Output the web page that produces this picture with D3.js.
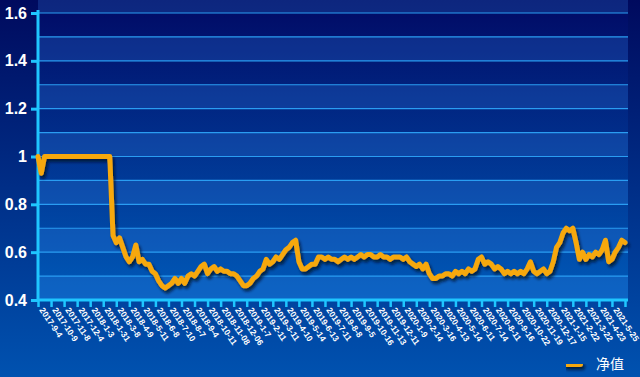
<!DOCTYPE html>
<html>
<head>
<meta charset="utf-8">
<script src="https://cdn.jsdelivr.net/npm/d3@7"></script>
<style>
  html, body { margin: 0; padding: 0; background: #00246e; }
  svg { display: block; font-family: "Liberation Sans", Arial, sans-serif; }
</style>
</head>
<body>
<svg id="chart"></svg>
<script>
// x-axis tick labels (one per tick, 4 samples between ticks)
const dateLabels = [
  "2017-9-4", "2017-10-9", "2017-11-8", "2017-12-4", "2018-1-3", "2018-1-31",
  "2018-3-8", "2018-4-9", "2018-5-11", "2018-6-8", "2018-7-10", "2018-8-7",
  "2018-9-4", "2018-10-11", "2018-11-08", "2018-12-06", "2019-1-7", "2019-2-11",
  "2019-3-11", "2019-4-10", "2019-5-14", "2019-6-13", "2019-7-11", "2019-8-8",
  "2019-9-5", "2019-10-16", "2019-11-13", "2019-12-11", "2020-1-9", "2020-2-14",
  "2020-3-16", "2020-4-13", "2020-5-14", "2020-6-11", "2020-7-14", "2020-8-11",
  "2020-9-16", "2020-10-22", "2020-11-19", "2020-12-17", "2021-1-15", "2021-2-22",
  "2021-3-22", "2021-4-23", "2021-5-25"
];
const stepsPerLabel = 4;

// net value (净值)
const netValues = [
  1.00, 0.93, 1.00, 1.00, 1.00, 1.00, 1.00, 1.00, 1.00, 1.00,
  1.00, 1.00, 1.00, 1.00, 1.00, 1.00, 1.00, 1.00, 1.00, 1.00,
  1.00, 1.00, 1.00, 0.67, 0.64, 0.66, 0.62, 0.58, 0.56, 0.58,
  0.63, 0.56, 0.57, 0.55, 0.55, 0.52, 0.51, 0.48, 0.46, 0.45,
  0.46, 0.47, 0.49, 0.47, 0.49, 0.47, 0.50, 0.51, 0.50, 0.52,
  0.54, 0.55, 0.51, 0.53, 0.54, 0.52, 0.53, 0.52, 0.52, 0.51,
  0.51, 0.50, 0.48, 0.46, 0.46, 0.47, 0.49, 0.50, 0.52, 0.53,
  0.57, 0.55, 0.56, 0.58, 0.57, 0.59, 0.61, 0.62, 0.64, 0.65,
  0.56, 0.53, 0.53, 0.54, 0.55, 0.55, 0.58, 0.58, 0.57, 0.58,
  0.57, 0.57, 0.56, 0.57, 0.58, 0.57, 0.58, 0.57, 0.58, 0.59,
  0.58, 0.59, 0.59, 0.58, 0.58, 0.59, 0.58, 0.58, 0.57, 0.58,
  0.58, 0.58, 0.57, 0.58, 0.56, 0.55, 0.54, 0.55, 0.53, 0.55,
  0.51, 0.49, 0.49, 0.50, 0.50, 0.51, 0.51, 0.50, 0.52, 0.51,
  0.52, 0.51, 0.53, 0.52, 0.53, 0.57, 0.58, 0.55, 0.56, 0.55,
  0.53, 0.54, 0.53, 0.51, 0.52, 0.51, 0.52, 0.51, 0.52, 0.51,
  0.53, 0.56, 0.52, 0.51, 0.52, 0.53, 0.51, 0.52, 0.56, 0.62,
  0.64, 0.68, 0.70, 0.69, 0.70, 0.64, 0.57, 0.60, 0.57, 0.59,
  0.58, 0.60, 0.59, 0.61, 0.65, 0.56, 0.57, 0.60, 0.62, 0.65,
  0.64
];

const yTicks = [0.4, 0.6, 0.8, 1, 1.2, 1.4, 1.6];
const seriesName = "净值";

const width = 640, height = 377;
const margin = {top: 13, right: 12, bottom: 77, left: 38};
const innerRight = width - margin.right;   // 628
const innerBottom = height - margin.bottom; // 300

const svg = d3.select("#chart")
  .attr("width", width)
  .attr("height", height)
  .attr("viewBox", `0 0 ${width} ${height}`);

const defs = svg.append("defs");

const bg = defs.append("linearGradient").attr("id", "bg")
  .attr("x1", 0).attr("y1", 0).attr("x2", 0).attr("y2", 1);
bg.append("stop").attr("offset", "0%").attr("stop-color", "#000a5e");
bg.append("stop").attr("offset", "100%").attr("stop-color", "#0052b0");

const plotBg = defs.append("linearGradient").attr("id", "plotBg")
  .attr("x1", 0).attr("y1", 0).attr("x2", 0).attr("y2", 1);
plotBg.append("stop").attr("offset", "0%").attr("stop-color", "#010d68");
plotBg.append("stop").attr("offset", "100%").attr("stop-color", "#005ab9");

// user-space filter region so it also works on thin shapes
const shadow = defs.append("filter").attr("id", "shadow")
  .attr("filterUnits", "userSpaceOnUse")
  .attr("x", 0).attr("y", 0).attr("width", width).attr("height", height);
shadow.append("feDropShadow")
  .attr("dx", 2).attr("dy", 3).attr("stdDeviation", 1.5)
  .attr("flood-color", "#000820").attr("flood-opacity", 0.75);

svg.append("rect")
  .attr("width", width).attr("height", height)
  .attr("fill", "url(#bg)");

// scales
const x = d3.scaleLinear()
  .domain([0, dateLabels.length * stepsPerLabel])
  .range([margin.left, margin.left + 587]);

const y = d3.scaleLinear()
  .domain([0.4, 1.6])
  .range([innerBottom, margin.top]);

svg.append("rect")
  .attr("x", margin.left).attr("y", margin.top)
  .attr("width", innerRight - margin.left)
  .attr("height", innerBottom - margin.top)
  .attr("fill", "url(#plotBg)");

// alternating lighter bands between the 0.1 gridlines
const bands = d3.range(0.4, 1.6, 0.2).map(v => +v.toFixed(1));
svg.append("g").selectAll("rect")
  .data(bands)
  .join("rect")
  .attr("x", margin.left)
  .attr("y", d => y(d + 0.1))
  .attr("width", innerRight - margin.left)
  .attr("height", d => y(d) - y(d + 0.1))
  .attr("fill", "#3c8cf0")
  .attr("fill-opacity", 0.22);

// gridlines
const gridVals = d3.range(0.5, 1.61, 0.1).map(v => +v.toFixed(1));
svg.append("g").selectAll("line")
  .data(gridVals)
  .join("line")
  .attr("x1", margin.left).attr("x2", innerRight)
  .attr("y1", d => y(d)).attr("y2", d => y(d))
  .attr("stroke", "#2a9df2")
  .attr("stroke-width", 1.2);

// y axis
const yAxis = svg.append("g")
  .attr("transform", `translate(${margin.left},0)`)
  .call(d3.axisLeft(y).tickValues(yTicks).tickSize(7).tickPadding(4)
    .tickFormat(d => d3.format("~g")(d)));
yAxis.select(".domain")
  .attr("d", `M0,${margin.top - 3}V${innerBottom}`)
  .attr("stroke", "#1fc6ff").attr("stroke-width", 3);
yAxis.selectAll(".tick line").attr("stroke", "#1fc6ff").attr("stroke-width", 3);
yAxis.selectAll(".tick text")
  .attr("fill", "#ffffff")
  .attr("font-size", 16)
  .attr("font-weight", "bold")
  .attr("font-family", "Liberation Sans, Arial, sans-serif");

// x axis
const tickIdx = d3.range(0, dateLabels.length + 1).map(i => i * stepsPerLabel);
const xAxis = svg.append("g")
  .attr("transform", `translate(0,${innerBottom})`)
  .call(d3.axisBottom(x).tickValues(tickIdx).tickSize(7).tickFormat(""));
xAxis.select(".domain")
  .attr("d", `M${margin.left},0H${innerRight}`)
  .attr("stroke", "#1fc6ff").attr("stroke-width", 3);
xAxis.selectAll(".tick line").attr("stroke", "#1fc6ff").attr("stroke-width", 2.5);

svg.append("g").selectAll("text")
  .data(dateLabels)
  .join("text")
  .attr("transform", (d, i) => `translate(${x(i * stepsPerLabel) + 1},${innerBottom + 10}) rotate(56)`)
  .attr("fill", "#ffffff")
  .attr("font-size", 8.5)
  .attr("font-weight", "bold")
  .attr("font-family", "Liberation Sans, Arial, sans-serif")
  .text(d => d);

// net value line
const line = d3.line()
  .x((d, i) => x(i))
  .y(d => y(d));

svg.append("path")
  .datum(netValues)
  .attr("d", line)
  .attr("fill", "none")
  .attr("stroke", "#f6a80c")
  .attr("stroke-width", 5)
  .attr("stroke-linejoin", "round")
  .attr("stroke-linecap", "round")
  .attr("filter", "url(#shadow)");

// legend
const legend = svg.append("g").attr("transform", "translate(566,364)");
legend.append("line")
  .attr("x1", 0).attr("x2", 14).attr("y1", 0).attr("y2", 0)
  .attr("stroke", "#f6a80c")
  .attr("stroke-width", 6)
  .attr("stroke-linecap", "round")
  .attr("filter", "url(#shadow)");
legend.append("text")
  .attr("x", 30).attr("y", 5)
  .attr("fill", "#ffffff")
  .attr("font-size", 14)
  .attr("font-family", "Noto Sans CJK SC, sans-serif")
  .text(seriesName);
</script>
</body>
</html>
